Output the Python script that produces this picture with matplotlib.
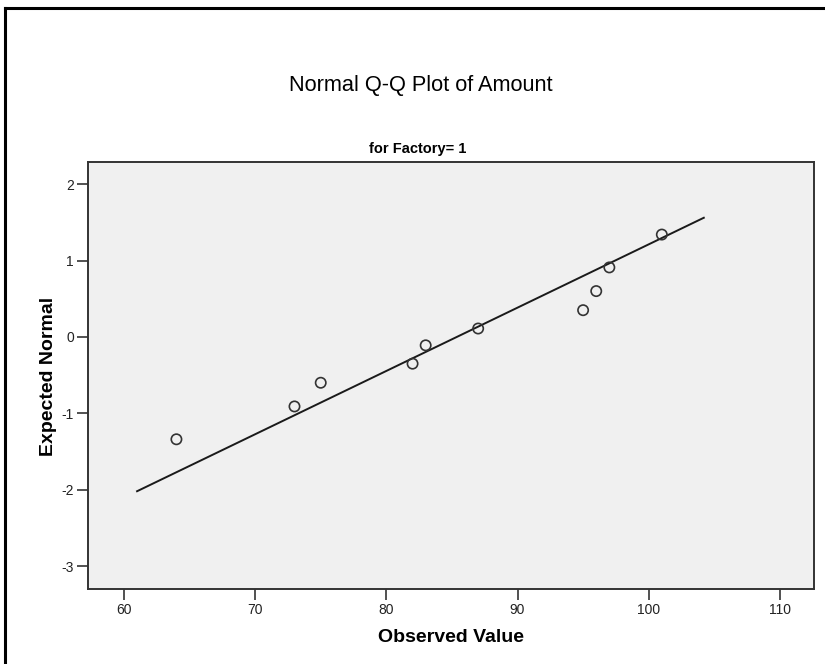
import matplotlib
matplotlib.use("Agg")
import matplotlib.pyplot as plt
from matplotlib.lines import Line2D

plt.rcParams['font.family'] = ['Liberation Sans', 'DejaVu Sans']

observed = [64, 73, 75, 82, 83, 87, 95, 96, 97, 101]
expected = [-1.34, -0.91, -0.60, -0.35, -0.11, 0.11, 0.35, 0.60, 0.91, 1.34]
line_x = [61.0, 104.2]
line_y = [-2.02, 1.56]
xticks = [60, 70, 80, 90, 100, 110]
yticks = [-3, -2, -1, 0, 1, 2]

W, H = 825, 664
fig = plt.figure(figsize=(W / 100, H / 100), dpi=100)

left, right, top, bottom = 88, 814, 162, 589
ax = fig.add_axes([left / W, 1 - bottom / H, (right - left) / W, (bottom - top) / H])
ax.set_facecolor('#f0f0f0')

ax.plot(line_x, line_y, color='#1a1a1a', lw=1.4, zorder=2)
ax.scatter(observed, expected, s=55, facecolors='none', edgecolors='#333333',
           linewidths=1.2, zorder=3)

ax.set_xlim(57.26, 112.6)
ax.set_ylim(-3.30, 2.29)
ax.set_xticks(xticks)
ax.set_yticks(yticks)
ax.set_xticklabels([str(t) for t in xticks])
ax.set_yticklabels([str(t) for t in yticks])
ax.tick_params(direction='out', length=8, width=1.2, color='#333333',
               labelsize=10, labelcolor='#222222', pad=2)
for s in ax.spines.values():
    s.set_color('#333333')
    s.set_linewidth(1.4)

fig.text(451 / W, 1 - 638 / H, 'Observed Value', fontsize=14, fontweight='bold',
         ha='center', va='center')
fig.text(49 / W, 1 - 376 / H, 'Expected Normal', fontsize=14, fontweight='bold',
         ha='center', va='center', rotation=90)

fig.text(421 / W, 1 - 85 / H, 'Normal Q-Q Plot of Amount', fontsize=15.7,
         ha='center', va='center')
fig.text(418 / W, 1 - 149.5 / H, 'for Factory= 1', fontsize=10.5, fontweight='bold',
         ha='center', va='center')

# outer frame (top and left edges)
fig.add_artist(Line2D([5 / W, 5 / W], [0, 1 - 7.5 / H], transform=fig.transFigure,
                      color='black', lw=2.2))
fig.add_artist(Line2D([5 / W, 1], [1 - 7.5 / H, 1 - 7.5 / H], transform=fig.transFigure,
                      color='black', lw=2.2))

fig.savefig('out.png', dpi=100)
